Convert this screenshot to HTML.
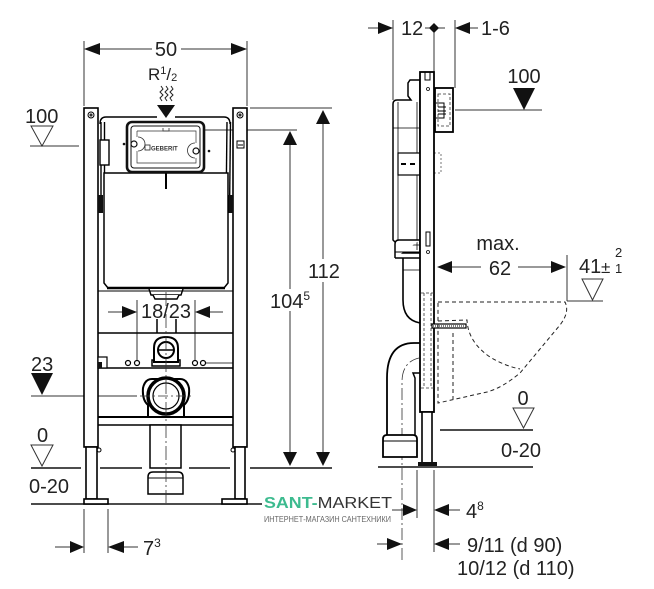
<!DOCTYPE html>
<html><head><meta charset="utf-8">
<style>
html,body{margin:0;padding:0;background:#fff;}
svg{display:block;}
text{font-family:"Liberation Sans",sans-serif;fill:#222;}
</style></head><body>
<svg width="654" height="589" viewBox="0 0 654 589" xmlns="http://www.w3.org/2000/svg">
<rect x="0" y="0" width="654" height="589" fill="#fff"/>

<!-- ================= FRONT VIEW ================= -->
<g stroke="#333" stroke-width="1" fill="none">
  <!-- 50 dim -->
  <line x1="84" y1="41" x2="84" y2="106"/>
  <line x1="247" y1="41" x2="247" y2="106"/>
  <line x1="98" y1="49" x2="152" y2="49"/>
  <line x1="181" y1="49" x2="233" y2="49"/>
  <!-- top ext line -->
  <line x1="250" y1="108" x2="332" y2="108"/>
  <line x1="163" y1="130" x2="297" y2="130"/>
  <!-- 112 -->
  <line x1="323" y1="124" x2="323" y2="259"/>
  <line x1="323" y1="282" x2="323" y2="452"/>
  <!-- 104.5 -->
  <line x1="290" y1="145" x2="290" y2="289"/>
  <line x1="290" y1="311" x2="290" y2="452"/>
  <!-- 100 left -->
  <line x1="30" y1="146" x2="79" y2="146"/>
  <!-- 23 -->
  <line x1="31" y1="396" x2="137" y2="396"/>
  <!-- 18/23 -->
  <line x1="137" y1="300" x2="137" y2="361"/>
  <line x1="195" y1="300" x2="195" y2="361"/>
  <line x1="108" y1="312" x2="122" y2="312"/>
  <line x1="210" y1="312" x2="223" y2="312"/>
  <!-- 7^3 -->
  <line x1="84" y1="509" x2="84" y2="553"/>
  <line x1="108" y1="509" x2="108" y2="553"/>
  <line x1="55" y1="547" x2="70" y2="547"/>
  <line x1="124" y1="547" x2="138" y2="547"/>
</g>
<g fill="#111" stroke="none">
  <polygon points="84,49 100,43 100,55"/>
  <polygon points="247,49 231,43 231,55"/>
  <polygon points="157,105 175,105 166,118"/>
  <polygon points="323,110 316,124 330,124"/>
  <polygon points="323,466 316,452 330,452"/>
  <polygon points="290,131 283,145 297,145"/>
  <polygon points="290,466 283,452 297,452"/>
  <polygon points="31,373 53,373 42,395"/>
  <polygon points="137,312 122,306 122,318"/>
  <polygon points="195,312 210,306 210,318"/>
  <polygon points="84,547 70,541 70,553"/>
  <polygon points="108,547 124,541 124,553"/>
</g>
<g fill="none" stroke="#333" stroke-width="1">
  <polygon points="31,126 53,126 42,146"/>
  <polygon points="31,445 53,445 42,466"/>
</g>
<!-- wavy water lines -->
<g fill="none" stroke="#222" stroke-width="1">
  <polyline points="161,86 163,89 160,92 163,95 160,98 162,101"/>
  <polyline points="166,86 168,89 165,92 168,95 165,98 167,101"/>
  <polyline points="171,86 173,89 170,92 173,95 170,98 172,101"/>
</g>

<!-- floor lines -->
<g stroke="#111" stroke-width="1.6">
  <line x1="31" y1="468" x2="81" y2="468"/>
  <line x1="100" y1="468" x2="142" y2="468"/>
  <line x1="189" y1="468" x2="230" y2="468"/>
  <line x1="250" y1="468" x2="332" y2="468"/>
  <line x1="31" y1="504" x2="262" y2="504"/>
</g>

<!-- frame -->
<g stroke="#000" stroke-width="1.6" fill="#fff">
  <rect x="84" y="108" width="14" height="339"/>
  <rect x="233" y="108" width="14" height="339"/>
  <rect x="86" y="447" width="11" height="52"/>
  <rect x="235" y="447" width="10" height="52"/>
  <rect x="84" y="499" width="24" height="5"/>
  <rect x="222" y="499" width="25" height="5"/>
</g>
<g stroke="#000" stroke-width="1" fill="none">
  <circle cx="91" cy="115" r="3"/><circle cx="91" cy="115" r="1"/>
  <circle cx="240" cy="115" r="3"/><circle cx="240" cy="115" r="1"/>
  <circle cx="99" cy="450" r="2"/><circle cx="233" cy="450" r="2"/>
  <rect x="237" y="141" width="7" height="7"/>
  <line x1="238" y1="145" x2="243" y2="145"/>
</g>
<!-- top rail & brackets -->
<g stroke="#000" stroke-width="1.4" fill="none">
  <path d="M100,124 Q100,117 106,117 L157,117 M175,117 L224,117 Q230,117 230,124"/>
  <line x1="101" y1="122" x2="101" y2="213"/>
  <line x1="104.5" y1="122" x2="104.5" y2="213"/>
  <line x1="227" y1="122" x2="226" y2="213"/>
  <line x1="230.5" y1="122" x2="229.5" y2="213"/>
  <rect x="100" y="140" width="9" height="25" fill="#fff"/>
</g>
<rect x="98" y="195" width="5" height="18" fill="#111"/>
<rect x="228" y="195" width="5" height="18" fill="#111"/>

<!-- cistern -->
<path d="M104,173 L228,173 L228,283 L224,288 L108,288 L104,283 Z" fill="#fff" stroke="#000" stroke-width="1.5"/>
<line x1="107" y1="288" x2="225" y2="288" stroke="#000" stroke-width="2.5"/>
<line x1="166" y1="173" x2="166" y2="189" stroke="#000" stroke-width="2"/>
<g stroke="#000" stroke-width="1.4" fill="#fff">
  <path d="M149,289 L151,295 L181,295 L183,289"/>
  <path d="M153,295 L155,299 L177,299 L179,295"/>
</g>

<!-- actuator box -->
<rect x="127" y="122" width="77" height="50" rx="5" fill="#fff" stroke="#111" stroke-width="2.6"/>
<rect x="131" y="126" width="69" height="42" rx="3" fill="none" stroke="#111" stroke-width="1"/>
<path d="M137,131 L196,131 L196,143 M196,158 L196,163 L137,163 L137,151 M137,137 L137,131" fill="none" stroke="#333" stroke-width="0.7"/>
<path d="M138,137 A7,7 0 0 1 138,151" fill="none" stroke="#333" stroke-width="0.8"/>
<path d="M195,143 A7,7 0 0 0 195,158" fill="none" stroke="#333" stroke-width="0.8"/>
<circle cx="134" cy="144" r="3" fill="#fff" stroke="#111" stroke-width="1.2"/>
<circle cx="196" cy="151" r="3" fill="#fff" stroke="#111" stroke-width="1.2"/>
<rect x="145" y="145" width="5" height="5" fill="none" stroke="#222" stroke-width="0.8"/>
<text x="151" y="150.5" font-size="6" font-weight="bold" style="fill:#333">GEBERIT</text>
<path d="M163,128 L163,131 L169,131 L169,128" fill="none" stroke="#333" stroke-width="0.8"/>
<circle cx="124" cy="144" r="1.3" fill="#111"/>
<circle cx="209" cy="151" r="1.3" fill="#111"/>

<!-- lower frame crossbars -->
<g stroke="#000" fill="none">
  <line x1="98" y1="291" x2="233" y2="291" stroke-width="1"/>
  <line x1="98" y1="333" x2="233" y2="333" stroke-width="1.5"/>
  <line x1="98" y1="368" x2="233" y2="368" stroke-width="1.5"/>
  <line x1="98" y1="417" x2="233" y2="417" stroke-width="2"/>
  <line x1="98" y1="425" x2="233" y2="425" stroke-width="1.5"/>
  <line x1="157" y1="319" x2="157" y2="333" stroke-width="1.5"/>
  <line x1="176" y1="319" x2="176" y2="333" stroke-width="1.5"/>
  <line x1="206" y1="363" x2="233" y2="363" stroke-width="0.8"/>
</g>
<rect x="98" y="357" width="9" height="11" fill="#fff" stroke="#000" stroke-width="1.2"/>
<rect x="98" y="362" width="4" height="6" fill="#111"/>
<g fill="#fff" stroke="#000" stroke-width="1.2">
  <circle cx="128" cy="363" r="2.5"/><circle cx="137" cy="363" r="2.5"/>
  <circle cx="195" cy="363" r="2.5"/><circle cx="203" cy="363" r="2.5"/>
</g>
<!-- small elbow -->
<rect x="152" y="360" width="28" height="6" fill="#fff" stroke="#000" stroke-width="1.5"/>
<path d="M154,362 L154,348 Q154,337 166,337 Q178,337 178,348 L178,362 Z" fill="#fff" stroke="#000" stroke-width="2"/>
<circle cx="166" cy="350" r="8" fill="#fff" stroke="#000" stroke-width="2"/>
<line x1="159" y1="350" x2="173" y2="350" stroke="#000" stroke-width="1.5"/>

<!-- big drain -->
<path d="M148,417 L148,405 Q142,400 143,388 Q145,379 152,379 L180,379 Q187,379 189,388 Q190,400 184,405 L184,417 Z" fill="#fff" stroke="#000" stroke-width="2"/>
<circle cx="166" cy="396" r="18" fill="#fff" stroke="#000" stroke-width="3.5"/>
<circle cx="166" cy="396" r="13" fill="none" stroke="#000" stroke-width="1.2"/>
<line x1="140" y1="396" x2="193" y2="396" stroke="#333" stroke-width="0.8" stroke-dasharray="10,3,2,3"/>

<!-- drain pipe & socket -->
<rect x="150" y="425" width="31" height="43" fill="#fff" stroke="#000" stroke-width="1.5"/>
<path d="M148,494 L148,477 Q148,472 153,472 L178,472 Q183,472 183,477 L183,494 Z" fill="#fff" stroke="#000" stroke-width="1.5"/>
<line x1="148" y1="478" x2="183" y2="478" stroke="#000" stroke-width="1"/>
<line x1="166" y1="292" x2="166" y2="503" stroke="#333" stroke-width="0.8" stroke-dasharray="14,3,2,3"/>

<!-- front texts -->
<g font-size="20">
  <text x="166" y="56" text-anchor="middle">50</text>
  <text x="25" y="123">100</text>
  <text x="31" y="371">23</text>
  <text x="37" y="442">0</text>
  <text x="29" y="493">0-20</text>
  <text x="324" y="278" text-anchor="middle">112</text>
  <text x="270" y="308">104<tspan font-size="12" dy="-8">5</tspan></text>
  <text x="166" y="318" text-anchor="middle">18/23</text>
  <text x="143" y="555">7<tspan font-size="12" dy="-8">3</tspan></text>
</g>
<text x="148" y="80" font-size="17">R<tspan font-size="11" dy="-6">1</tspan><tspan dy="6">/</tspan><tspan font-size="11" dy="1">2</tspan></text>

<!-- ================= SIDE VIEW ================= -->
<g stroke="#333" stroke-width="1" fill="none">
  <line x1="368" y1="28" x2="378" y2="28"/>
  <line x1="393" y1="20" x2="393" y2="100"/>
  <line x1="425" y1="28" x2="430" y2="28"/>
  <line x1="438" y1="28" x2="445" y2="28"/>
  <line x1="434" y1="28" x2="434" y2="72"/>
  <line x1="455" y1="20" x2="455" y2="88"/>
  <line x1="470" y1="28" x2="478" y2="28"/>
  <line x1="455" y1="110" x2="542" y2="110"/>
  <line x1="452" y1="267" x2="481" y2="267"/>
  <line x1="518" y1="267" x2="551" y2="267"/>
  <line x1="567" y1="255" x2="567" y2="301"/>
  <line x1="567" y1="301" x2="603" y2="301"/>
  <line x1="392" y1="510" x2="403" y2="510"/>
  <line x1="449" y1="510" x2="460" y2="510"/>
  <line x1="377" y1="544" x2="387" y2="544"/>
  <line x1="449" y1="544" x2="460" y2="544"/>
  <line x1="417" y1="470" x2="417" y2="518"/>
  <line x1="434" y1="470" x2="434" y2="552"/>
</g>
<g fill="#111" stroke="none">
  <polygon points="393,28 378,22 378,34"/>
  <polygon points="434,23 439,28 434,33 429,28"/>
  <polygon points="455,28 470,22 470,34"/>
  <polygon points="513,88 535,88 524,110"/>
  <polygon points="437,267 452,261 452,273"/>
  <polygon points="566,267 551,261 551,273"/>
  <polygon points="417,510 403,504 403,516"/>
  <polygon points="434,510 449,504 449,516"/>
  <polygon points="402,544 387,538 387,550"/>
  <polygon points="434,544 449,538 449,550"/>
</g>
<g fill="none" stroke="#333" stroke-width="1">
  <polygon points="582,279 603,279 592.5,300"/>
  <polygon points="513,408 534,408 523.5,428"/>
</g>
<g stroke="#111" stroke-width="1.6">
  <line x1="440" y1="430" x2="533" y2="430"/>
  <line x1="378" y1="467" x2="533" y2="467"/>
</g>

<!-- side cistern -->
<path d="M420,80 L410,80 L408,83 L408,96 L411,100 L397,100 Q393,100 393,104 L393,240 L396,243 L396,253 L420,253 Z" fill="#fff" stroke="#000" stroke-width="1.5"/>
<g stroke="#000" stroke-width="0.8" fill="none">
  <line x1="398" y1="102" x2="398" y2="250"/>
  <line x1="417" y1="102" x2="417" y2="250"/>
  <line x1="393" y1="128" x2="420" y2="128"/>
  <line x1="396" y1="245" x2="420" y2="245"/>
</g>
<rect x="398" y="153" width="22" height="22" fill="#fff" stroke="#000" stroke-width="1.2"/>
<line x1="401" y1="164" x2="406" y2="164" stroke="#000" stroke-width="2"/>
<line x1="410" y1="164" x2="415" y2="164" stroke="#000" stroke-width="2"/>
<rect x="434" y="153" width="7" height="20" fill="none" stroke="#555" stroke-width="0.8" stroke-dasharray="2,2"/>
<!-- side frame -->
<rect x="420" y="72" width="14" height="340" fill="#fff" stroke="#000" stroke-width="1.8"/>
<rect x="425" y="72" width="5" height="8" fill="none" stroke="#000" stroke-width="1"/>
<circle cx="428" cy="89" r="1.5" fill="none" stroke="#000" stroke-width="0.8"/>
<circle cx="428" cy="252" r="1.5" fill="none" stroke="#000" stroke-width="0.8"/>
<rect x="426" y="232" width="4" height="14" fill="none" stroke="#000" stroke-width="1"/>
<rect x="422" y="412" width="10" height="51" fill="#fff" stroke="#000" stroke-width="1.6"/>
<rect x="418" y="462" width="19" height="4" fill="#111"/>
<!-- actuator side box -->
<rect x="435" y="88" width="18" height="44" fill="#fff" stroke="#000" stroke-width="1.8"/>
<rect x="438" y="94" width="12" height="32" fill="none" stroke="#333" stroke-width="0.8" stroke-dasharray="3,2"/>
<path d="M436,103 L444,103 L444,118 L436,118 M438,107 L446,107 M438,111 L446,111 M438,114 L446,114" fill="none" stroke="#000" stroke-width="1"/>
<!-- dashed in frame region -->
<g fill="none" stroke="#333" stroke-width="0.8" stroke-dasharray="3,2">
  <line x1="424" y1="293" x2="424" y2="388"/>
  <line x1="431" y1="293" x2="431" y2="388"/>
  <line x1="421" y1="293" x2="434" y2="293"/>
  <line x1="421" y1="388" x2="434" y2="388"/>
</g>
<!-- upper pipe -->
<path d="M395,258 L395,244 Q395,240 399,240 L420,240" fill="#fff" stroke="#000" stroke-width="1.5"/>
<line x1="395" y1="252" x2="420" y2="252" stroke="#000" stroke-width="1"/>
<path d="M395,258 L420,258" stroke="#000" stroke-width="1.5"/>
<path d="M403,258 L403,300 Q403,320 420,323" fill="none" stroke="#000" stroke-width="1.6"/>
<line x1="403" y1="270" x2="420" y2="270" stroke="#000" stroke-width="0.8"/>
<!-- bolt -->
<rect x="432" y="324" width="34" height="4" fill="#fff" stroke="#000" stroke-width="1.2"/>
<line x1="433" y1="326" x2="465" y2="326" stroke="#000" stroke-width="1" stroke-dasharray="1,1"/>
<!-- big elbow -->
<path d="M387,435 L387,378 Q387,343 414,343 L420,343" fill="none" stroke="#000" stroke-width="1.8"/>
<path d="M415,435 L415,378 L413,373 L420,373" fill="none" stroke="#000" stroke-width="1.5"/>
<path d="M402,560 L402,382 Q402,362 419,358" fill="none" stroke="#333" stroke-width="0.8" stroke-dasharray="12,3,2,3"/>
<path d="M383,457 L383,439 Q383,435 387,435 L413,435 Q417,435 417,439 L417,457 Z" fill="#fff" stroke="#000" stroke-width="1.8"/>
<line x1="383" y1="441" x2="417" y2="441" stroke="#000" stroke-width="1"/>
<!-- dashed toilet -->
<g fill="none" stroke="#222" stroke-width="1" stroke-dasharray="4,3">
  <path d="M438,302 L565,302 Q570,312 560,325 L520,373 Q502,388 487,392 L438,403 L438,302"/>
  <path d="M438,321 L467,320 Q468,342 490,357 Q505,366 520,369"/>
  <line x1="453" y1="333" x2="453" y2="399"/>
</g>

<!-- side texts -->
<g font-size="20">
  <text x="401" y="35">12</text>
  <text x="481" y="35">1-6</text>
  <text x="524" y="83" text-anchor="middle">100</text>
  <text x="498" y="250" text-anchor="middle">max.</text>
  <text x="500" y="275" text-anchor="middle">62</text>
  <text x="579" y="273">41</text>
  <text x="523" y="405" text-anchor="middle">0</text>
  <text x="501" y="457">0-20</text>
  <text x="466" y="518">4<tspan font-size="12" dy="-8">8</tspan></text>
  <text x="467" y="552">9/11 (d 90)</text>
  <text x="457" y="575">10/12 (d 110)</text>
</g>
<text x="601" y="273" font-size="17">±</text>
<text x="615" y="257" font-size="13">2</text>
<text x="615" y="273" font-size="13">1</text>

<!-- watermark -->
<text x="264" y="508" font-size="16" textLength="128" lengthAdjust="spacingAndGlyphs"><tspan font-weight="bold" style="fill:#3dbb8f">SANT-</tspan><tspan style="fill:#333">MARKET</tspan></text>
<text x="264" y="522" font-size="8.5" textLength="127" lengthAdjust="spacingAndGlyphs" style="fill:#666">ИНТЕРНЕТ-МАГАЗИН САНТЕХНИКИ</text>
</svg>
</body></html>
